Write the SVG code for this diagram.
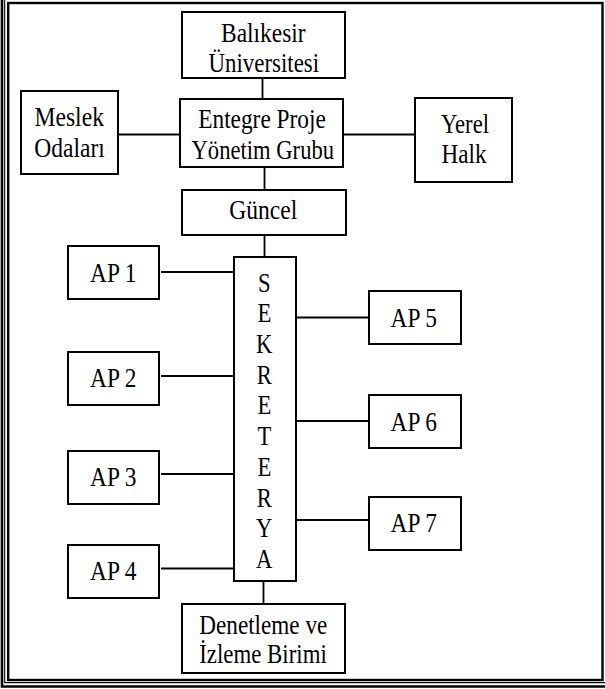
<svg xmlns="http://www.w3.org/2000/svg" width="605" height="689" viewBox="0 0 605 689">
<style>
  rect.box { fill: #fff; stroke: #000; stroke-width: 2; }
  .conn path { fill: none; stroke: #000; stroke-width: 1.8; }
  text { font-family: "Liberation Serif", "Times New Roman", serif; font-size: 27px; fill: #000; text-anchor: middle; }
  .frame { fill: none; stroke: #000; }
</style>
<rect x="0" y="0" width="605" height="689" fill="#fff"/>
<g id="frame">
  <path class="frame" d="M2,0 V686.5 H605" stroke-width="2.6"/>
  <path class="frame" d="M4.7,0 V682.6 H605" stroke-width="1.1"/>
  <rect class="frame" x="8.2" y="3" width="594.3" height="677" stroke-width="2.4"/>
</g>
<g class="conn" id="connectors">
  <path d="M262.5,78 V99"/>
  <path d="M118,134.5 H180"/>
  <path d="M343,134.5 H415"/>
  <path d="M264.5,167 V190"/>
  <path d="M264.5,235 V257"/>
  <path d="M161,272 H234"/>
  <path d="M161,376 H234"/>
  <path d="M161,474 H234"/>
  <path d="M161,568.5 H234"/>
  <path d="M296,317.5 H369"/>
  <path d="M296,421 H369"/>
  <path d="M296,520 H369"/>
  <path d="M263.5,581 V604"/>
</g>
<g id="balikesir">
  <rect class="box" x="182" y="12" width="163" height="66"/>
  <text x="263.3" y="41.7" textLength="84.5" lengthAdjust="spacingAndGlyphs">Balıkesir</text>
  <text x="263.8" y="71.7" textLength="110.5" lengthAdjust="spacingAndGlyphs">Üniversitesi</text>
</g>
<g id="meslek">
  <rect class="box" x="21" y="91" width="97" height="83"/>
  <text x="69.2" y="126" textLength="69.5" lengthAdjust="spacingAndGlyphs">Meslek</text>
  <text x="69.5" y="156.7" textLength="70.5" lengthAdjust="spacingAndGlyphs">Odaları</text>
</g>
<g id="entegre">
  <rect class="box" x="180" y="99" width="163" height="68"/>
  <text x="262" y="128.3" textLength="127.5" lengthAdjust="spacingAndGlyphs">Entegre Proje</text>
  <text x="262.8" y="159.3" textLength="142.5" lengthAdjust="spacingAndGlyphs">Yönetim Grubu</text>
</g>
<g id="yerel">
  <rect class="box" x="415" y="98" width="97" height="84"/>
  <text x="465" y="132.7" textLength="48" lengthAdjust="spacingAndGlyphs">Yerel</text>
  <text x="464" y="163.3" textLength="45" lengthAdjust="spacingAndGlyphs">Halk</text>
</g>
<g id="guncel">
  <rect class="box" x="182" y="190" width="164" height="45"/>
  <text x="263.3" y="219.3" textLength="68" lengthAdjust="spacingAndGlyphs">Güncel</text>
</g>
<g id="sekreterya">
  <rect class="box" x="234" y="257" width="62" height="324"/>
  <g transform="translate(264.3 0) scale(0.84 1)">
    <text x="0" y="291.7">S</text>
    <text x="0" y="322.4">E</text>
    <text x="0" y="353.1">K</text>
    <text x="0" y="383.8">R</text>
    <text x="0" y="414.5">E</text>
    <text x="0" y="445.2">T</text>
    <text x="0" y="475.9">E</text>
    <text x="0" y="506.6">R</text>
    <text x="0" y="537.3">Y</text>
    <text x="0" y="568">A</text>
  </g>
</g>
<g id="ap1">
  <rect class="box" x="68" y="246" width="91" height="53"/>
  <text x="113.3" y="281.7" textLength="46.5" lengthAdjust="spacingAndGlyphs">AP 1</text>
</g>
<g id="ap2">
  <rect class="box" x="68" y="352" width="91" height="53"/>
  <text x="113.3" y="386.7" textLength="46.5" lengthAdjust="spacingAndGlyphs">AP 2</text>
</g>
<g id="ap3">
  <rect class="box" x="68" y="451" width="91" height="53"/>
  <text x="113.3" y="486" textLength="46.5" lengthAdjust="spacingAndGlyphs">AP 3</text>
</g>
<g id="ap4">
  <rect class="box" x="68" y="545" width="91" height="53"/>
  <text x="113.3" y="580" textLength="46.5" lengthAdjust="spacingAndGlyphs">AP 4</text>
</g>
<g id="ap5">
  <rect class="box" x="369" y="291" width="92" height="53"/>
  <text x="413.8" y="326.7" textLength="46.5" lengthAdjust="spacingAndGlyphs">AP 5</text>
</g>
<g id="ap6">
  <rect class="box" x="369" y="395" width="92" height="53"/>
  <text x="413.8" y="430.7" textLength="46.5" lengthAdjust="spacingAndGlyphs">AP 6</text>
</g>
<g id="ap7">
  <rect class="box" x="369" y="497" width="92" height="53"/>
  <text x="413.8" y="531.7" textLength="46.5" lengthAdjust="spacingAndGlyphs">AP 7</text>
</g>
<g id="denetleme">
  <rect class="box" x="182" y="604" width="163" height="69"/>
  <text x="263.3" y="634.3" textLength="128" lengthAdjust="spacingAndGlyphs">Denetleme ve</text>
  <text x="263" y="663.3" textLength="127.5" lengthAdjust="spacingAndGlyphs">İzleme Birimi</text>
</g>
</svg>
